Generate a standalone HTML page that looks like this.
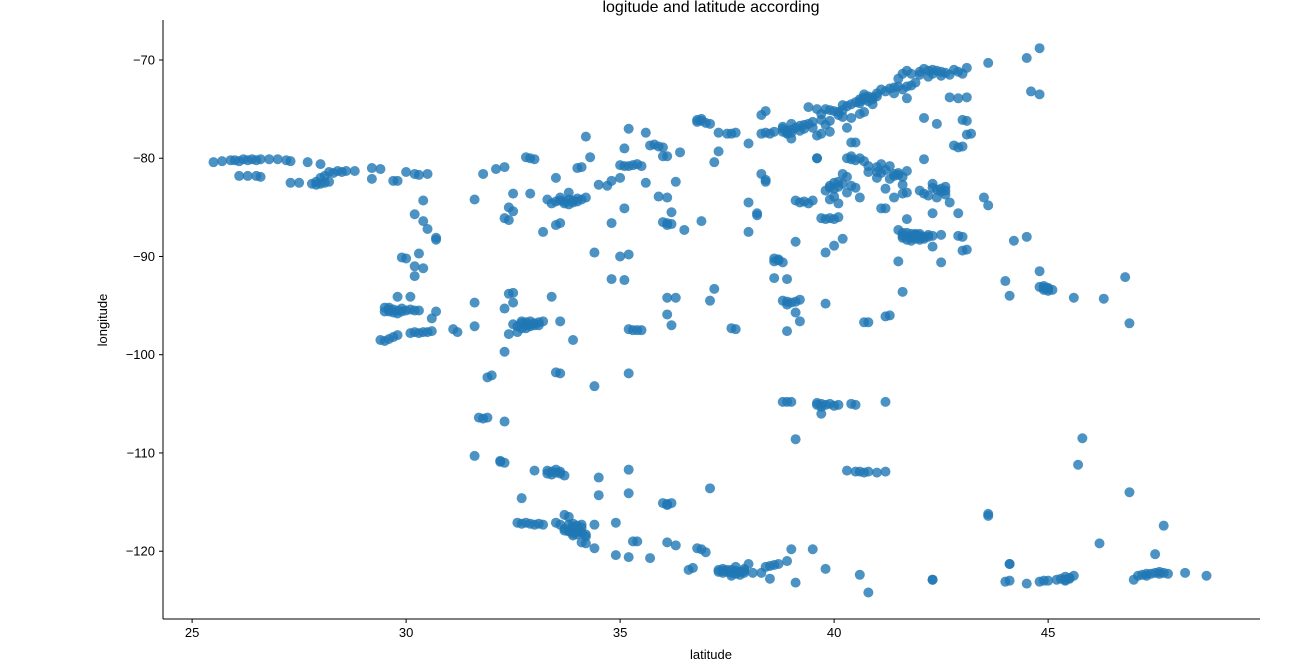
<!DOCTYPE html>
<html><head><meta charset="utf-8"><style>
body{margin:0;background:#fff;}
svg{display:block;font-family:"Liberation Sans","DejaVu Sans",sans-serif;}
</style></head><body>
<svg id="chart" width="1299" height="671">
<text x="711" y="12" text-anchor="middle" font-size="16">logitude and latitude according</text>
<g id="marks"></g>
<g id="axes"></g>
<text x="711" y="659" text-anchor="middle" font-size="13">latitude</text>
<text transform="translate(107,320) rotate(-90)" text-anchor="middle" font-size="13">longitude</text>
</svg>
<script>
const xTicks=[25,30,35,40,45];
const yTicks=[-70,-80,-90,-100,-110,-120];
const southEast=[[25.5,-80.4],[25.7,-80.3],[25.9,-80.2],[26.0,-80.2],[26.2,-80.1],[26.4,-80.1],[26.6,-80.1],[26.8,-80.1],[27.0,-80.1],[27.2,-80.2],[27.3,-80.3],[26.1,-81.8],[26.3,-81.8],[26.5,-81.8],[26.6,-81.9],[27.3,-82.5],[27.5,-82.5],[27.8,-82.6],[27.9,-82.7],[28.0,-82.6],[28.1,-82.5],[28.2,-82.4],[28.0,-82.0],[28.1,-81.8],[28.3,-81.5],[28.5,-81.4],[28.6,-81.3],[28.8,-81.3],[28.0,-80.6],[27.7,-80.4],[29.2,-81.0],[29.4,-81.1],[29.2,-82.1],[29.7,-82.3],[29.8,-82.3],[30.0,-81.4],[30.2,-81.6],[30.3,-81.7],[30.5,-81.6],[30.4,-84.3],[30.2,-85.7],[30.4,-86.4],[30.5,-87.2],[30.7,-88.1],[30.7,-88.3],[29.9,-90.1],[30.0,-90.2],[30.2,-91.0],[30.4,-91.2],[30.2,-92.0],[30.3,-89.7],[29.8,-94.1],[30.1,-94.1],[29.5,-95.2],[29.6,-95.4],[29.7,-95.4],[29.8,-95.5],[29.9,-95.3],[30.0,-95.5],[29.7,-95.7],[29.6,-95.6],[30.1,-95.4],[30.2,-95.5],[29.5,-95.6],[30.3,-95.5],[29.4,-98.5],[29.5,-98.6],[29.6,-98.4],[29.8,-98.0],[29.7,-98.2],[30.2,-97.7],[30.3,-97.8],[30.4,-97.7],[30.5,-97.7],[30.6,-97.6],[30.1,-97.8],[30.6,-96.3],[30.7,-95.6],[31.1,-97.4],[31.2,-97.7],[31.6,-97.1],[31.6,-94.7],[31.6,-84.2],[31.8,-81.6],[32.1,-81.1],[32.3,-80.9],[32.8,-79.9],[32.9,-80.0],[33.0,-80.1],[32.5,-83.6],[32.9,-83.6],[32.4,-85.0],[32.5,-85.4],[32.3,-86.1],[32.4,-86.3],[32.5,-96.9],[32.6,-97.1],[32.7,-96.8],[32.8,-97.0],[32.9,-96.9],[33.0,-96.8],[33.1,-96.7],[33.2,-96.6],[32.7,-97.3],[32.8,-97.3],[32.9,-97.1],[32.6,-97.7],[33.0,-97.0],[32.3,-95.3],[32.5,-94.7],[32.4,-93.8],[32.5,-93.7],[32.3,-99.7],[32.4,-97.9],[33.9,-98.5],[33.6,-96.6],[33.4,-94.1],[33.5,-101.8],[33.6,-101.9],[34.4,-103.2],[33.4,-84.6],[33.5,-84.4],[33.6,-84.3],[33.7,-84.4],[33.8,-84.2],[33.9,-84.3],[34.0,-84.1],[34.1,-84.2],[34.2,-84.0],[33.9,-84.5],[33.7,-84.6],[33.8,-83.5],[33.2,-87.5],[33.5,-86.8],[33.6,-86.6],[33.5,-82.0],[34.0,-81.0],[34.1,-80.9],[34.2,-77.8],[34.3,-79.9],[34.5,-82.7],[34.7,-82.8],[34.8,-82.3],[35.0,-82.0],[34.8,-86.6],[34.8,-92.3],[34.4,-89.6],[35.1,-92.4],[35.0,-90.0],[35.2,-89.8],[35.1,-85.1],[35.0,-80.7],[35.1,-80.8],[35.2,-80.8],[35.3,-80.7],[35.4,-80.6],[35.5,-80.8],[35.1,-79.0],[35.2,-77.0],[35.8,-78.6],[35.9,-78.8],[36.0,-78.9],[36.0,-79.8],[36.1,-79.8],[35.7,-78.7],[35.6,-77.4],[35.6,-82.5],[35.9,-83.9],[36.0,-86.5],[36.1,-86.8],[36.2,-86.7],[36.1,-86.6],[36.1,-84.0],[36.3,-82.4],[36.2,-85.5],[36.5,-87.3],[36.9,-86.4],[36.1,-95.9],[36.1,-94.2],[36.3,-94.2],[36.2,-97.0],[35.2,-97.4],[35.4,-97.5],[35.5,-97.5],[35.3,-97.5],[35.2,-101.9],[36.4,-79.4],[36.8,-76.1],[36.8,-76.3],[36.9,-76.2],[37.0,-76.4],[37.1,-76.5],[36.9,-76.0],[37.3,-77.4],[37.5,-77.5],[37.6,-77.5],[37.7,-77.4],[37.2,-80.4],[37.3,-79.3]];
const central=[[37.1,-94.5],[37.2,-93.3],[37.6,-97.3],[37.7,-97.4],[38.0,-87.5],[38.0,-84.5],[38.2,-85.6],[38.2,-85.8],[38.4,-82.4],[38.3,-81.6],[38.0,-78.5],[38.6,-90.2],[38.7,-90.4],[38.6,-90.5],[38.8,-90.6],[38.7,-90.3],[38.6,-92.2],[38.9,-92.3],[38.8,-94.5],[38.9,-94.6],[39.0,-94.7],[39.1,-94.6],[38.9,-94.9],[39.2,-94.4],[38.9,-97.6],[39.1,-95.7],[39.2,-96.6],[39.8,-94.8],[39.1,-88.5],[39.8,-89.6],[40.0,-88.9],[40.2,-88.2],[39.7,-86.1],[39.8,-86.2],[39.9,-86.1],[40.0,-86.2],[40.1,-86.0],[39.2,-84.5],[39.3,-84.4],[39.4,-84.6],[39.5,-84.3],[39.1,-84.3],[39.9,-83.0],[40.0,-83.1],[40.1,-82.9],[39.9,-82.8],[40.0,-82.5],[39.8,-83.3],[40.3,-80.0],[40.4,-80.1],[40.5,-80.2],[40.6,-80.0],[40.4,-79.8],[39.6,-80.0],[40.4,-78.4],[40.3,-76.9],[38.8,-77.0],[38.9,-77.2],[39.0,-77.1],[39.1,-76.9],[39.2,-76.7],[39.3,-76.6],[39.4,-76.5],[39.0,-77.4],[38.9,-77.4],[38.8,-77.3],[39.2,-77.2],[39.5,-76.3],[38.5,-77.5],[38.4,-77.4],[38.3,-75.6],[38.4,-75.2],[38.3,-77.5],[39.6,-77.7],[39.0,-76.5],[39.9,-75.1],[40.0,-75.2],[40.1,-75.3],[40.2,-75.1],[39.8,-75.0],[39.7,-75.5],[40.3,-74.7],[40.5,-74.3],[40.6,-74.2],[40.7,-74.0],[40.8,-73.9],[40.9,-74.0],[40.7,-73.8],[40.8,-74.2],[40.6,-74.4],[40.9,-73.8],[40.7,-73.5],[41.0,-73.7],[41.2,-73.2],[41.3,-72.9],[41.5,-72.7],[41.8,-72.6],[41.7,-72.7],[41.6,-71.4],[41.8,-71.4],[42.0,-71.2],[42.2,-71.1],[42.3,-71.0],[42.4,-71.1],[42.5,-71.2],[42.6,-71.3],[42.8,-71.0],[43.0,-71.4],[43.1,-70.8],[43.6,-70.3],[44.5,-69.8],[44.8,-68.8],[44.6,-73.2],[44.8,-73.5],[43.1,-73.8],[42.7,-73.8],[42.9,-73.9],[41.7,-73.9],[42.1,-75.9],[42.4,-76.5],[43.0,-76.1],[43.1,-77.6],[43.2,-77.5],[43.1,-76.2],[43.0,-78.8],[42.9,-78.9],[42.8,-78.7],[42.1,-80.1],[41.1,-80.6],[41.4,-81.6],[41.5,-81.7],[41.5,-81.5],[41.6,-81.9],[41.4,-81.8],[41.1,-81.5],[41.0,-81.4],[40.8,-81.4],[41.2,-83.1],[41.6,-83.6],[41.7,-83.5],[42.3,-83.0],[42.4,-83.2],[42.5,-83.1],[42.5,-83.4],[42.6,-83.3],[42.7,-84.5],[42.9,-85.6],[42.3,-85.6],[41.7,-86.2],[41.1,-85.1],[41.2,-85.1],[41.7,-87.6],[41.8,-87.7],[41.9,-87.8],[42.0,-87.9],[42.1,-88.0],[41.9,-88.2],[42.0,-88.3],[41.8,-88.1],[42.2,-87.8],[41.5,-87.3],[41.6,-88.1],[42.3,-89.0],[42.5,-90.6],[41.5,-90.5],[41.6,-93.6],[41.3,-96.0],[41.2,-96.1],[40.8,-96.7],[40.7,-96.7],[43.0,-89.4],[43.1,-89.3],[43.0,-88.0],[42.9,-87.9],[42.5,-87.8],[43.5,-84.0],[43.6,-84.8],[44.0,-92.5],[44.1,-94.0],[44.2,-88.4],[44.5,-88.0],[44.8,-91.5],[44.8,-93.1],[44.9,-93.0],[45.0,-93.2],[45.1,-93.4],[44.9,-93.4],[45.0,-93.5],[45.6,-94.2],[46.3,-94.3],[46.8,-92.1],[46.9,-96.8],[39.6,-80.0],[40.5,-78.4],[38.4,-82.2],[39.7,-77.5]];
const west=[[31.7,-106.4],[31.8,-106.5],[31.9,-106.4],[31.6,-110.3],[32.2,-110.9],[32.3,-111.0],[32.2,-110.8],[32.3,-106.8],[31.9,-102.3],[32.0,-102.1],[33.3,-111.8],[33.4,-111.9],[33.5,-112.0],[33.6,-112.1],[33.4,-112.2],[33.7,-112.3],[33.5,-111.7],[33.3,-112.1],[33.6,-111.9],[33.0,-111.8],[34.5,-112.5],[35.2,-111.7],[35.2,-114.1],[34.5,-114.3],[32.7,-114.6],[32.6,-117.1],[32.7,-117.2],[32.8,-117.1],[32.9,-117.2],[33.0,-117.3],[33.1,-117.2],[33.2,-117.3],[33.5,-117.1],[33.6,-117.3],[33.7,-117.9],[33.8,-118.0],[33.9,-118.2],[34.0,-118.3],[34.1,-118.1],[33.8,-117.9],[33.9,-117.5],[34.0,-117.7],[34.1,-117.3],[33.7,-116.3],[33.8,-116.5],[34.2,-118.5],[34.2,-118.3],[34.4,-117.3],[34.1,-119.1],[33.9,-118.4],[34.0,-117.9],[34.4,-119.7],[34.2,-119.2],[34.9,-117.1],[34.9,-120.4],[35.2,-120.6],[35.3,-119.0],[35.4,-119.0],[35.7,-120.7],[36.0,-115.1],[36.1,-115.2],[36.2,-115.1],[36.1,-115.3],[36.1,-119.1],[36.3,-119.4],[36.6,-121.9],[36.7,-121.7],[36.9,-119.8],[36.8,-119.7],[37.0,-120.1],[37.1,-113.6],[37.3,-121.9],[37.4,-122.0],[37.5,-122.1],[37.6,-122.2],[37.7,-122.3],[37.8,-122.4],[37.9,-122.2],[37.7,-122.0],[37.5,-121.9],[37.3,-122.1],[37.6,-122.5],[37.9,-121.8],[38.0,-121.3],[38.1,-122.2],[38.3,-122.2],[38.4,-121.6],[38.5,-121.5],[38.6,-121.4],[38.7,-121.3],[38.9,-121.0],[38.5,-122.8],[39.1,-123.2],[39.0,-119.8],[39.5,-119.8],[39.8,-121.8],[40.6,-122.4],[40.8,-124.2],[40.3,-111.8],[40.5,-111.9],[40.6,-111.9],[40.7,-112.0],[40.8,-111.9],[41.0,-112.0],[41.2,-111.9],[38.9,-104.8],[39.0,-104.8],[38.8,-104.8],[39.1,-108.6],[39.6,-104.9],[39.7,-105.0],[39.8,-105.1],[39.9,-105.0],[40.0,-105.2],[39.7,-105.3],[39.6,-105.1],[40.1,-105.1],[39.7,-106.0],[40.4,-105.0],[40.5,-105.1],[41.2,-104.8],[42.3,-122.9],[44.0,-123.1],[44.1,-121.3],[44.1,-121.3],[44.5,-123.3],[44.8,-123.1],[44.9,-123.0],[45.0,-123.0],[45.2,-122.9],[45.3,-122.8],[45.4,-122.6],[45.5,-122.7],[45.6,-122.5],[45.4,-123.0],[45.7,-111.2],[45.8,-108.5],[46.2,-119.2],[46.9,-114.0],[47.0,-122.9],[47.1,-122.5],[47.2,-122.4],[47.3,-122.3],[47.5,-122.2],[47.6,-122.3],[47.7,-122.2],[47.8,-122.3],[47.6,-122.1],[47.7,-117.4],[47.5,-120.3],[48.2,-122.2],[48.7,-122.5],[43.6,-116.2],[43.6,-116.4],[42.3,-122.9],[44.1,-123.0]];
const denseClusters=[[40.2,-74.6],[40.4,-74.5],[40.6,-74.0],[40.8,-73.7],[41.0,-73.4],[41.1,-73.0],[41.4,-72.8],[41.6,-73.0],[41.9,-72.3],[41.5,-71.9],[42.0,-71.5],[42.2,-71.7],[42.3,-71.4],[42.5,-71.6],[42.7,-71.5],[42.9,-71.2],[42.1,-70.9],[41.7,-71.1],[41.4,-73.4],[39.4,-74.8],[39.6,-75.0],[39.7,-76.1],[39.3,-77.0],[39.5,-76.9],[39.8,-76.6],[39.9,-76.2],[40.1,-75.6],[40.2,-75.8],[40.4,-75.9],[40.6,-75.5],[40.7,-75.3],[40.9,-74.5],[39.9,-77.3],[38.8,-76.8],[39.0,-78.0],[40.2,-81.6],[40.3,-81.9],[40.1,-82.4],[40.2,-82.6],[40.4,-82.8],[40.3,-83.5],[40.5,-83.0],[40.0,-83.9],[39.9,-84.2],[40.6,-84.0],[40.1,-84.6],[40.7,-80.3],[40.8,-80.8],[41.0,-80.9],[41.2,-81.2],[41.3,-80.8],[41.0,-82.0],[41.3,-82.1],[41.6,-82.7],[41.7,-81.3],[41.4,-84.0],[42.0,-83.3],[42.1,-83.6],[42.2,-83.8],[42.4,-84.0],[42.6,-83.7],[42.6,-82.9],[42.3,-82.6],[41.6,-87.9],[41.7,-88.3],[41.8,-88.0],[41.9,-87.9],[41.9,-87.7],[42.0,-88.1],[42.1,-88.2],[42.2,-88.0],[41.8,-88.4],[41.6,-87.6],[42.3,-87.9],[42.0,-87.7],[33.8,-84.7],[34.0,-84.4],[33.6,-84.0],[33.3,-84.2],[29.6,-95.2],[29.9,-95.6],[29.8,-95.8],[32.7,-96.6],[32.9,-96.6],[33.1,-97.0],[32.8,-96.7],[26.1,-80.3],[26.3,-80.2],[26.5,-80.2],[28.4,-81.3],[28.2,-81.4],[27.9,-82.4],[37.4,-121.8],[37.6,-121.9],[37.8,-122.1],[37.4,-122.2],[37.7,-121.6],[37.9,-122.0],[33.9,-117.9],[34.0,-118.0],[33.7,-117.7],[33.8,-117.3],[34.1,-117.6],[33.9,-117.2],[34.0,-117.4],[47.3,-122.5],[47.4,-122.3],[45.5,-122.8],[45.4,-122.9],[44.9,-93.2],[45.0,-93.3],[38.9,-77.5],[38.6,-77.3]];
const L=163,R=1260,T=20,B=619,X0=24.32,X1=49.95,Y0=-126.9,Y1=-65.93;
const sx=v=>L+(v-X0)/(X1-X0)*(R-L);
const sy=v=>B-(v-Y0)/(Y1-Y0)*(B-T);
const NS='http://www.w3.org/2000/svg';
const marks=document.getElementById('marks'),axes=document.getElementById('axes');
function mk(tag,attrs,parent){const e=document.createElementNS(NS,tag);for(const k in attrs)e.setAttribute(k,attrs[k]);parent.appendChild(e);return e;}
[southEast,central,west,denseClusters].forEach(arr=>arr.forEach(p=>{
  const c=mk('circle',{cx:sx(p[0]),cy:sy(p[1]),r:5,fill:'#1f77b4','fill-opacity':0.8},marks);
  
  
}));
const xl=mk('line',{x1:L,x2:R,y1:B,y2:B,stroke:'#000','stroke-width':1},axes);


const yl=mk('line',{x1:L,x2:L,y1:T,y2:B,stroke:'#000','stroke-width':1},axes);


xTicks.forEach(t=>{
  const x=sx(t);
  mk('line',{x1:x,x2:x,y1:B,y2:B+4,stroke:'#000'},axes);
  const tx=mk('text',{x:x,y:B+18,'text-anchor':'middle','font-size':13},axes);
  tx.textContent=t;
  
  
});
yTicks.forEach(t=>{
  const y=sy(t);
  mk('line',{x1:L-4,x2:L,y1:y,y2:y,stroke:'#000'},axes);
  const tx=mk('text',{x:L-8,y:y+4.5,'text-anchor':'end','font-size':13},axes);
  tx.textContent='\u2212'+Math.abs(t);
  
  
});
</script>
</body></html>
